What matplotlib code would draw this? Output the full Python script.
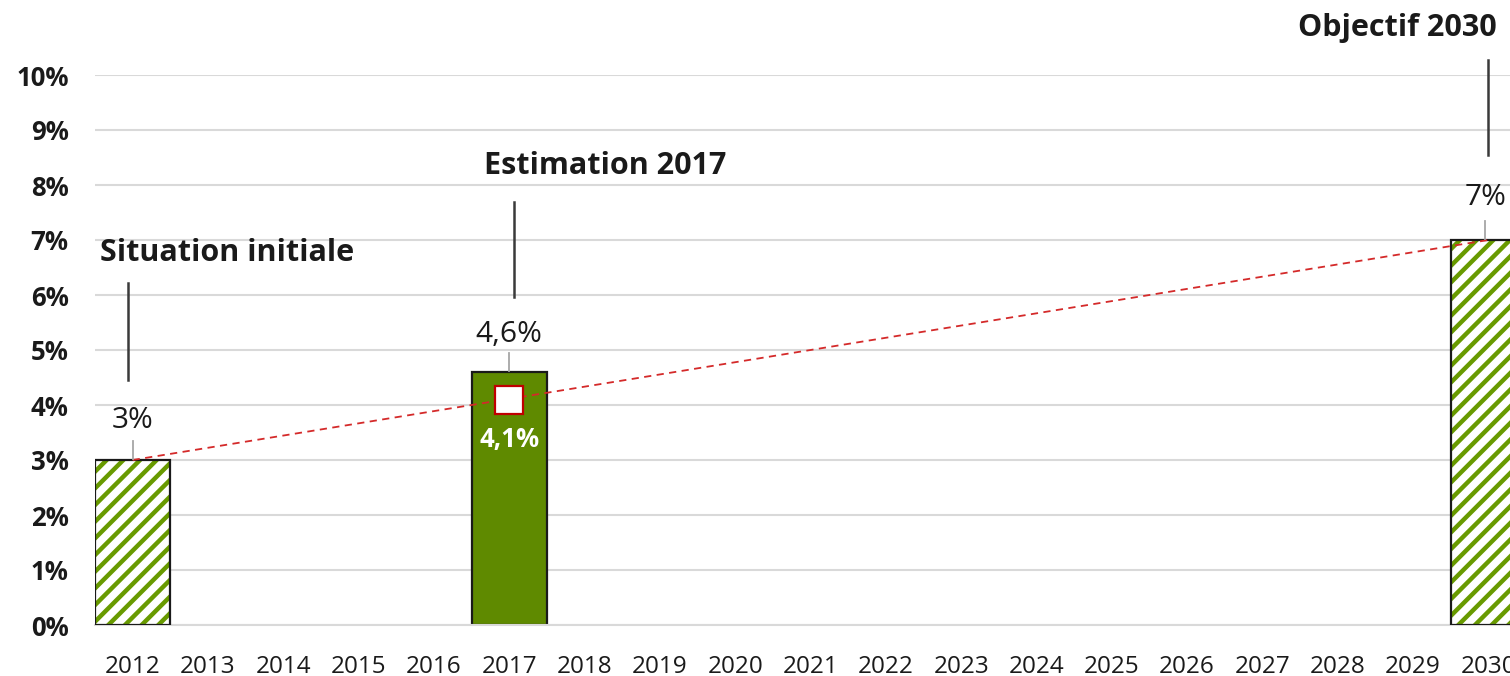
import matplotlib
matplotlib.use("Agg")
import matplotlib.pyplot as plt
from matplotlib.ticker import FuncFormatter

years = list(range(2012, 2031))
hatched_years = [2012, 2030]
hatched_values = [3.0, 7.0]
solid_years = [2017]
solid_values = [4.6]
trajectory_years = [2012, 2030]
trajectory_values = [3.0, 7.0]
estimate_year = 2017
estimate_value = 4.1
value_labels = ["3%", "4,6%", "7%"]
label_years = [2012, 2017, 2030]
label_values = [3.0, 4.6, 7.0]
callouts = ["Situation initiale", "Estimation 2017", "Objectif 2030"]
yticks = list(range(0, 11))

plt.rcParams['font.family'] = ['Open Sans', 'DejaVu Sans']
plt.rcParams['hatch.linewidth'] = 3.2

W, H = 1510, 676
fig = plt.figure(figsize=(W / 100, H / 100), dpi=100)
x0 = 95 / W
x1 = 1526 / W
y0 = (H - 625) / H
y1 = (H - 75) / H
ax = fig.add_axes([x0, y0, x1 - x0, y1 - y0])

green = '#5F8A00'
ax.set_xlim(2011.5, 2030.5)
ax.set_ylim(0, 10)
ax.set_axisbelow(True)
ax.grid(axis='y', color='#D9D9D9', linewidth=1.5)
for s in ['top', 'right', 'left']:
    ax.spines[s].set_visible(False)
ax.spines['bottom'].set_color('#D9D9D9')
ax.spines['bottom'].set_linewidth(1.5)

# hatched bars
ax.bar(hatched_years, hatched_values, width=1.0, color='white', edgecolor='#689A00',
       hatch='//', linewidth=0, zorder=2)
ax.bar(hatched_years, hatched_values, width=1.0, fill=False, edgecolor='#1A1A1A',
       linewidth=1.6, zorder=3)
# solid bar
ax.bar(solid_years, solid_values, width=1.0, color=green, edgecolor='#1A1A1A',
       linewidth=1.6, zorder=2)

# trajectory
ax.plot(trajectory_years, trajectory_values, color='#D42A2A', linestyle=(0, (4, 3)),
        linewidth=1.3, zorder=4)
ax.plot([estimate_year], [estimate_value], marker='s', markersize=20,
        markerfacecolor='white', markeredgecolor='#C00000', markeredgewidth=1.6,
        linestyle='none', zorder=5)
ax.text(estimate_year, estimate_value - 0.72, "4,1%", color='white', fontsize=18.5,
        fontweight='bold', ha='center', va='center', zorder=6)

# value labels with leader lines
label_offsets = [0.71, 0.69, 0.78]
for yr, v, lab, off in zip(label_years, label_values, value_labels, label_offsets):
    dx = -0.04 if yr == 2030 else 0
    ax.text(yr + dx, v + off, lab, fontsize=21.5, color='#1A1A1A',
            ha='center', va='center', clip_on=False, zorder=6)
    ax.plot([yr + dx, yr + dx], [v + 0.02, v + 0.34], color='#A6A6A6',
            linewidth=1.3, clip_on=False, zorder=6)

# callouts
callout_pos = [(2011.57, 6.76, 'left'), (2018.28, 8.35, 'center'), (2028.79, 10.85, 'center')]
callout_lines = [(2011.94, 4.45, 6.22), (2017.06, 5.96, 7.69), (2030.0, 8.55, 10.27)]
for txt, (tx, ty, ha), (lx, ly0, ly1) in zip(callouts, callout_pos, callout_lines):
    ax.text(tx, ty, txt, fontsize=22, fontweight='bold', color='#1A1A1A', ha=ha,
            va='center', clip_on=False)
    ax.plot([lx, lx], [ly0, ly1], color='#3A3A3A', linewidth=1.8, clip_on=False)

ax.set_xticks(years)
ax.set_xticklabels([str(y) for y in years], fontsize=17.5, color='#1A1A1A')
for t in ax.get_xticklabels():
    t.set_verticalalignment('center')
ax.set_yticks(yticks)
ax.yaxis.set_major_formatter(FuncFormatter(lambda v, p: f"{int(v)}%"))
ax.tick_params(axis='y', labelsize=18.5, length=0, pad=19, labelcolor='#1A1A1A')
for t in ax.get_yticklabels():
    t.set_fontweight('bold')
ax.tick_params(axis='x', length=0, pad=30)

fig.savefig('out.png', dpi=100)
